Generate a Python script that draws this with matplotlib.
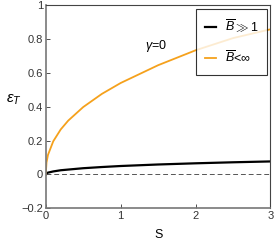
import matplotlib
matplotlib.use("Agg")
import matplotlib.pyplot as plt

plt.rcParams["font.family"] = ["Liberation Sans", "DejaVu Sans"]
plt.rcParams["mathtext.fontset"] = "custom"
plt.rcParams["mathtext.it"] = "Liberation Sans:italic"
plt.rcParams["mathtext.rm"] = "Liberation Sans"

# values
S = [0, 0.01, 0.03, 0.1, 0.2, 0.3, 0.5, 0.75, 1.0, 1.5, 2.0, 2.5, 3.0]
eps_large_B = [0, 0.0066, 0.011, 0.018, 0.025, 0.029, 0.037, 0.044, 0.05, 0.059, 0.066, 0.072, 0.077]
eps_finite_B = [0, 0.071, 0.116, 0.196, 0.266, 0.318, 0.398, 0.476, 0.54, 0.645, 0.733, 0.805, 0.857]
xticks = [0, 1, 2, 3]
yticks = [-0.2, 0, 0.2, 0.4, 0.6, 0.8, 1]
ytick_labels = ["\u22120.2", "0", "0.2", "0.4", "0.6", "0.8", "1"]

fig = plt.figure(figsize=(2.74, 2.42), dpi=100)
ax = fig.add_axes([0.167, 0.139, 0.82, 0.84])

ax.axhline(0, color="#555555", lw=0.7, ls=(0, (5, 3)))
ax.plot(S, eps_large_B, color="black", lw=1.6, label=r"$\overline{B}$$\gg$1")
ax.plot(S, eps_finite_B, color="#f5a11c", lw=1.3, label=r"$\overline{B}$<$\infty$")

ax.set_xlim(0, 3)
ax.set_ylim(-0.2, 1)
ax.set_xticks(xticks)
ax.set_yticks(yticks)
ax.set_yticklabels(ytick_labels)
ax.tick_params(direction="in", length=3, width=0.6, labelsize=8, colors="#333333", pad=2)

for side in ["left", "bottom"]:
    ax.spines[side].set_color("#777777")
    ax.spines[side].set_linewidth(1.2)
for side in ["top", "right"]:
    ax.spines[side].set_color("#444444")
    ax.spines[side].set_linewidth(0.8)

ax.text(1.33, 0.76, r"$\gamma$=0", fontsize=9, ha="left", va="center")
ax.set_xlabel("S", fontsize=9, labelpad=6)
ax.set_ylabel(r"$\epsilon_T$", fontsize=11, rotation=0)
ax.yaxis.set_label_coords(-0.14, 0.5)

leg = ax.legend(loc="upper right", fontsize=9, frameon=True, fancybox=False,
                handlelength=0.9, handletextpad=0.7, borderpad=0.7,
                labelspacing=1.25, borderaxespad=0.3)
leg.get_frame().set_edgecolor("black")
leg.get_frame().set_linewidth(0.8)

fig.savefig("out.png", dpi=100)
